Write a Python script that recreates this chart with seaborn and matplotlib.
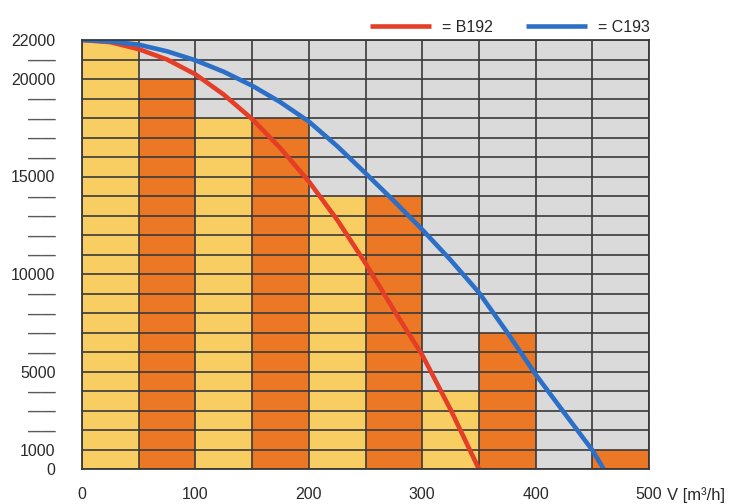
import matplotlib
matplotlib.use("Agg")
import matplotlib.pyplot as plt
import seaborn as sns
import pandas as pd

# ---- data ----
bar_centers = [25, 75, 125, 175, 225, 275, 325, 375, 425, 475]
bar_heights = [22000, 20000, 18000, 18000, 14000, 14000, 4000, 7000, 0, 1000]
bar_groups = ["light", "dark", "light", "dark", "light", "dark", "light", "dark", "light", "dark"]

b192_x = [0, 25, 50, 75, 100, 125, 150, 175, 200, 225, 250, 275, 300, 325, 350]
b192_y = [22000, 21890, 21530, 21000, 20240, 19200, 17950, 16450, 14750, 12780, 10550, 8150, 5850, 3050, 0]

c193_x = [0, 25, 50, 75, 100, 125, 150, 175, 200, 225, 250, 275, 300, 325, 350, 375, 400, 425, 450, 460]
c193_y = [22000, 21930, 21760, 21420, 20960, 20370, 19660, 18810, 17820, 16560, 15170, 13750, 12280,
          10720, 9050, 7000, 4850, 2900, 970, 0]

x_ticks = [0, 50, 100, 150, 200, 250, 300, 350, 400, 450, 500]
x_tick_labels = ["0", "", "100", "", "200", "", "300", "", "400", "", "500"]
y_ticks = list(range(0, 23000, 1000))
y_label_values = {0: "0", 1000: "1000", 5000: "5000", 10000: "10000", 15000: "15000",
                  20000: "20000", 22000: "22000"}
legend_labels = ["= B192", "= C193"]
x_unit = "V [m\u00b3/h]"

# ---- style ----
YELLOW = "#F8CE63"
ORANGE = "#EC7825"
GRAY = "#DADADA"
RED = "#E53E27"
BLUE = "#2C6FC6"
GRID = "#3A3A3A"
TEXT = "#2A2A2A"

sns.set_theme(style="white")
plt.rcParams["font.family"] = ["Liberation Sans", "DejaVu Sans"]

fig = plt.figure(figsize=(7.39, 5.04), dpi=100)
ax = fig.add_axes([82 / 739, 1 - 469 / 504, (649 - 82) / 739, (469 - 40) / 504])
ax.set_facecolor(GRAY)

df_bars = pd.DataFrame({"x": bar_centers, "h": bar_heights, "g": bar_groups})
sns.barplot(data=df_bars, x="x", y="h", hue="g", palette={"light": YELLOW, "dark": ORANGE},
            native_scale=True, width=1.0, dodge=False, legend=False, linewidth=0,
            saturation=1, ax=ax)

df_b = pd.DataFrame({"x": b192_x, "y": b192_y})
df_c = pd.DataFrame({"x": c193_x, "y": c193_y})
sns.lineplot(data=df_b, x="x", y="y", color=RED, lw=3.3, ax=ax, zorder=4,
             label=legend_labels[0], solid_capstyle="butt", solid_joinstyle="round")
sns.lineplot(data=df_c, x="x", y="y", color=BLUE, lw=3.3, ax=ax, zorder=4,
             label=legend_labels[1], solid_capstyle="butt", solid_joinstyle="round")

ax.set_xlim(0, 500)
ax.set_ylim(0, 22000)
ax.set_xticks(x_ticks)
ax.set_xticklabels(x_tick_labels)
ax.set_yticks(y_ticks)
ax.set_yticklabels([y_label_values.get(v, "\u2014\u2014") for v in y_ticks])
for v, lab in zip(y_ticks, ax.get_yticklabels()):
    if v not in y_label_values:
        lab.set_fontsize(10)
        lab.set_fontweight("bold")
        lab.set_color("#5A5A5A")
    else:
        lab.set_fontsize(11.5)
        lab.set_color(TEXT)
ax.tick_params(axis="x", length=0, pad=13, labelsize=11.5, labelcolor=TEXT)
ax.tick_params(axis="y", length=0, pad=19)
ax.set_xlabel("")
ax.set_ylabel("")

ax.set_axisbelow(False)
ax.grid(True, color=GRID, lw=1.2, zorder=2.5)
for s in ax.spines.values():
    s.set_color(GRID)
    s.set_linewidth(1.3)
    s.set_zorder(5)

ax.annotate(x_unit, xy=(500, 0), xycoords=("data", "axes fraction"),
            xytext=(13, -13), textcoords="offset points", ha="left", va="top",
            fontsize=12, color=TEXT)

ax.legend(loc="lower right", bbox_to_anchor=(650 / 739, 1 - 35 / 504),
          bbox_transform=fig.transFigure, ncol=2, frameon=False, fontsize=11.5,
          handlelength=3.8, handletextpad=0.7, columnspacing=2.1,
          borderaxespad=0, borderpad=0)

fig.savefig("out.png", dpi=100, facecolor="white")
